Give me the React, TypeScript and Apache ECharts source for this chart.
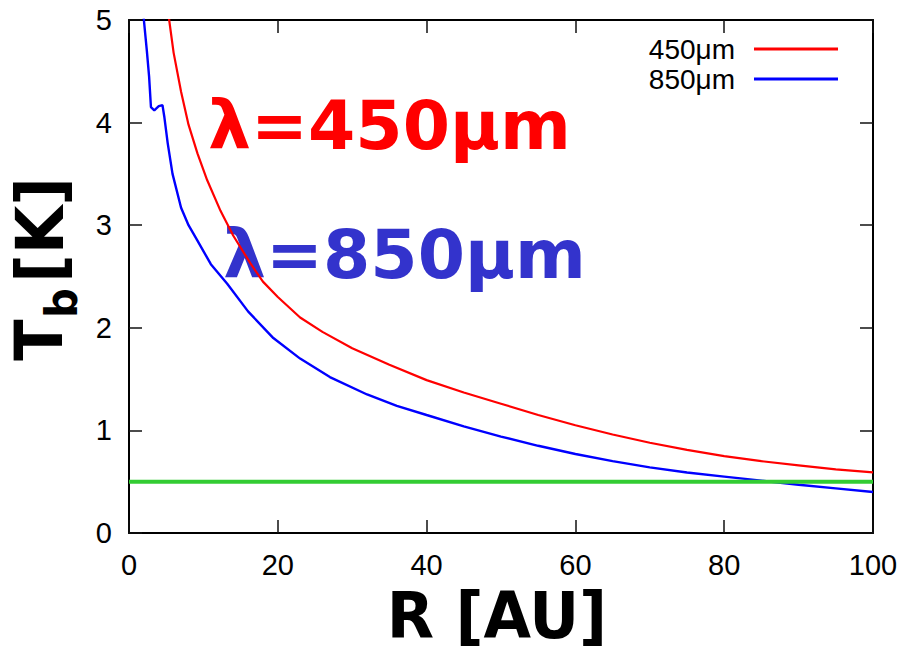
import React, { useEffect, useRef } from "react";
import * as echarts from "echarts";

const xTicks = [0, 20, 40, 60, 80, 100];
const yTicks = [0, 1, 2, 3, 4, 5];

const redR = [5.0, 5.4, 6.0, 7, 8, 9.2, 10.5, 12.3, 14, 16.3, 18, 20, 23, 26, 30, 35, 40, 45, 50, 55, 60, 65, 70, 75, 80, 85, 90, 95, 100];
const redT = [5.35, 5.0, 4.68, 4.3, 3.98, 3.7, 3.44, 3.14, 2.9, 2.63, 2.45, 2.3, 2.1, 1.96, 1.8, 1.64, 1.49, 1.37, 1.26, 1.15, 1.05, 0.96, 0.88, 0.81, 0.75, 0.7, 0.66, 0.62, 0.59];

const blueR = [1.7, 2.0, 2.4, 2.7, 2.95, 3.4, 4.0, 4.5, 4.74, 5.2, 5.85, 7, 8, 9.2, 11, 13.2, 16, 19.4, 23, 27, 32, 36, 40, 45, 50, 55, 60, 65, 70, 75, 80, 85, 90, 95, 100];
const blueT = [5.4, 5.0, 4.7, 4.45, 4.15, 4.12, 4.16, 4.17, 4.06, 3.8, 3.5, 3.17, 3.0, 2.85, 2.62, 2.43, 2.16, 1.9, 1.7, 1.52, 1.35, 1.24, 1.15, 1.04, 0.94, 0.85, 0.77, 0.7, 0.64, 0.59, 0.55, 0.51, 0.47, 0.435, 0.4];

const thresholdR = [0, 100];
const thresholdT = [0.5, 0.5];

const seriesNames = ["450μm", "850μm"];

export default function App() {
  const ref = useRef<HTMLDivElement>(null);
  useEffect(() => {
    if (!ref.current) return;
    const chart = echarts.init(ref.current, null, { renderer: "svg" });
    const zip = (a: number[], b: number[]) => a.map((v, i) => [v, b[i]]);
    const axisLine = { show: true, onZero: false, lineStyle: { color: "#000", width: 2 } };
    const axisTick = { show: true, inside: true, length: 13, lineStyle: { color: "#111", width: 1.5 } };
    const labelFont = { fontSize: 29, color: "#000", fontFamily: "Liberation Sans, Arial, sans-serif" };
    const titleFont = "DejaVu Sans";
    chart.setOption({
      animation: false,
      backgroundColor: "#fff",
      grid: { left: 129, right: 31, top: 20, bottom: 121, containLabel: false },
      legend: {
        data: seriesNames,
        orient: "vertical",
        right: 66,
        top: 34,
        padding: 0,
        align: "right",
        icon: "rect",
        itemWidth: 84,
        itemHeight: 3,
        itemGap: 0,
        textStyle: { fontSize: 28, color: "#000", fontFamily: "Liberation Sans, Arial, sans-serif", lineHeight: 22, padding: [8, 14, 0, 0] },
      },
      xAxis: [
        {
          type: "value", position: "bottom", min: xTicks[0], max: xTicks[xTicks.length - 1], interval: 20,
          axisLine, axisTick, splitLine: { show: false },
          axisLabel: { ...labelFont, margin: 17 },
        },
        {
          type: "value", position: "top", min: xTicks[0], max: xTicks[xTicks.length - 1], interval: 20,
          axisLine, axisTick, splitLine: { show: false }, axisLabel: { show: false },
        },
      ],
      yAxis: [
        {
          type: "value", position: "left", min: yTicks[0], max: yTicks[yTicks.length - 1], interval: 1,
          axisLine, axisTick, splitLine: { show: false },
          axisLabel: { ...labelFont, margin: 17 },
        },
        {
          type: "value", position: "right", min: yTicks[0], max: yTicks[yTicks.length - 1], interval: 1,
          axisLine, axisTick, splitLine: { show: false }, axisLabel: { show: false },
        },
      ],
      series: [
        {
          name: seriesNames[0], type: "line", data: zip(redR, redT), showSymbol: false, symbol: "none",
          lineStyle: { color: "#ff0000", width: 2.2 }, itemStyle: { color: "#ff0000" }, clip: true,
        },
        {
          name: seriesNames[1], type: "line", data: zip(blueR, blueT), showSymbol: false, symbol: "none",
          lineStyle: { color: "#0000ff", width: 2.4 }, itemStyle: { color: "#0000ff" }, clip: true,
        },
        {
          name: "threshold", type: "line", data: zip(thresholdR, thresholdT), showSymbol: false, symbol: "none",
          lineStyle: { color: "#33cc33", width: 4 }, itemStyle: { color: "#33cc33" }, clip: false, silent: true,
        },
      ],
      graphic: [
        {
          type: "text", x: 208, y: 125,
          style: { text: "λ=450μm", fill: "#ff0000", font: `bold 68px ${titleFont}`, align: "left", verticalAlign: "middle" },
        },
        {
          type: "text", x: 223, y: 254,
          style: { text: "λ=850μm", fill: "#3333cc", font: `bold 68px ${titleFont}`, align: "left", verticalAlign: "middle" },
        },
        {
          type: "text", x: 497, y: 616, scaleX: 0.96,
          style: { text: "R [AU]", fill: "#000", font: `bold 64px ${titleFont}`, align: "center", verticalAlign: "middle" },
        },
        {
          type: "text", x: 39, y: 340, rotation: Math.PI / 2, scaleX: 0.92,
          style: { text: "T", fill: "#000", font: `bold 66px ${titleFont}`, align: "center", verticalAlign: "middle" },
        },
        {
          type: "text", x: 62, y: 303, rotation: Math.PI / 2, scaleX: 0.95,
          style: { text: "b", fill: "#000", font: `bold 44px ${titleFont}`, align: "center", verticalAlign: "middle" },
        },
        {
          type: "text", x: 40, y: 230, rotation: Math.PI / 2, scaleX: 0.95,
          style: { text: "[K]", fill: "#000", font: `bold 66px ${titleFont}`, align: "center", verticalAlign: "middle" },
        },
      ],
    });
    return () => chart.dispose();
  }, []);
  return <div ref={ref} style={{ position: "absolute", left: 0, top: 0, width: 904, height: 654 }} />;
}
